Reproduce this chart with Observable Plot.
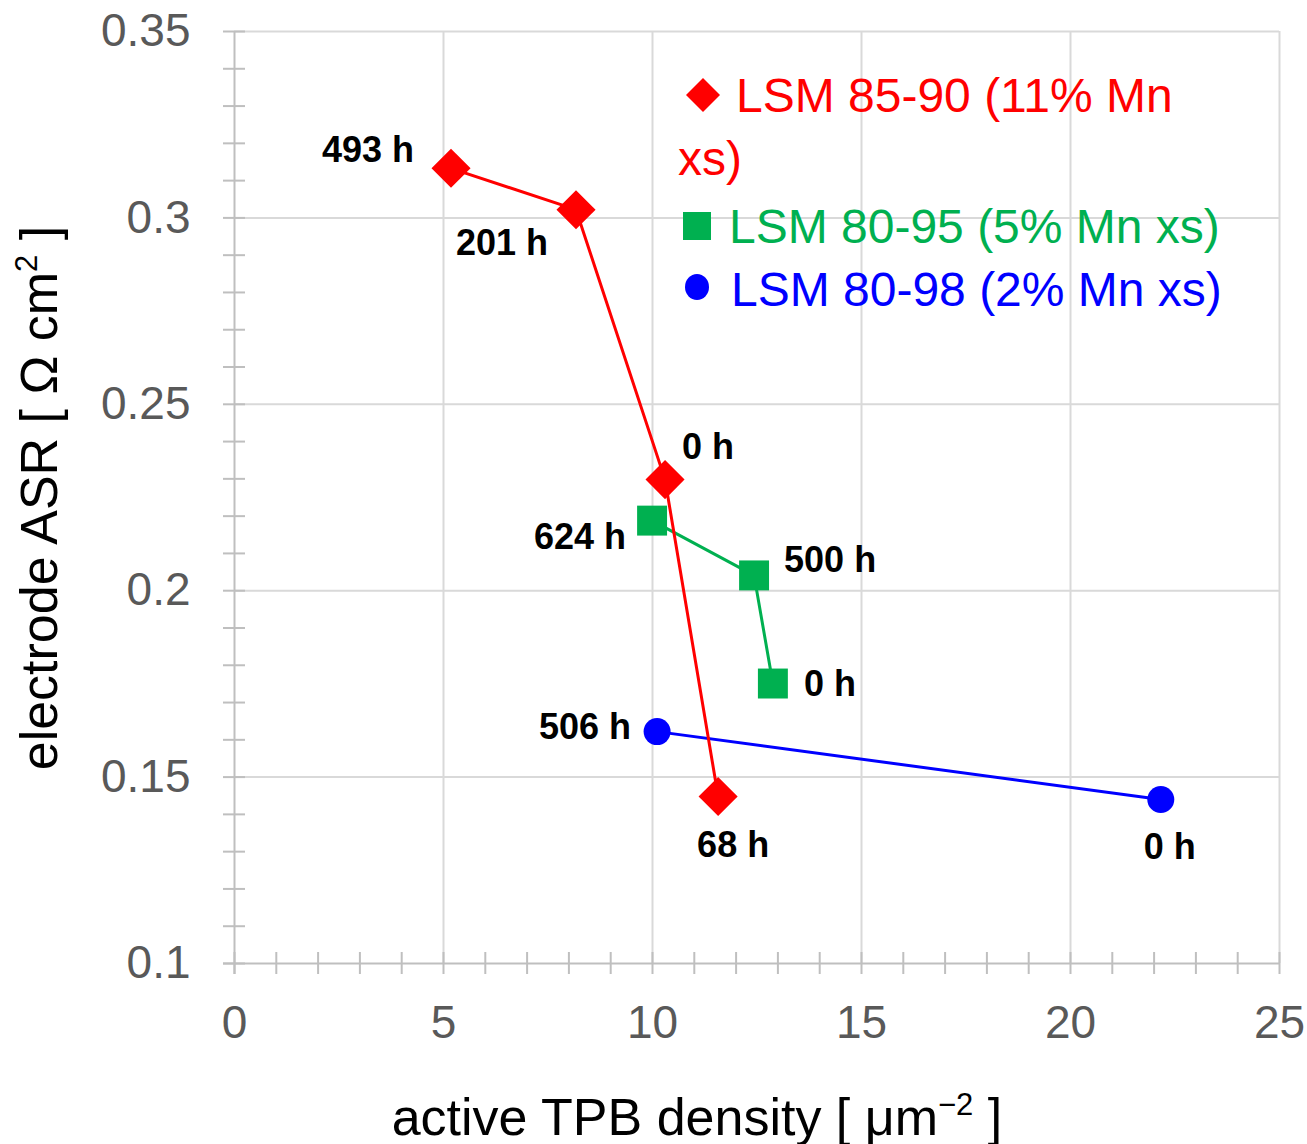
<!DOCTYPE html>
<html>
<head>
<meta charset="utf-8">
<script src="https://cdn.jsdelivr.net/npm/d3@7"></script>
<script src="https://cdn.jsdelivr.net/npm/@observablehq/plot@0.6"></script>
<style>
  body { margin: 0; background: #fff; }
  #chart { position: relative; width: 1307px; height: 1144px; }
</style>
</head>
<body>
<div id="chart"></div>
<script>
// ---- data ----
const xTicks = [0, 5, 10, 15, 20, 25];
const yTicks = [0.1, 0.15, 0.2, 0.25, 0.3, 0.35];
const xMinor = [0,1,2,3,4,5,6,7,8,9,10,11,12,13,14,15,16,17,18,19,20,21,22,23,24,25];
const yMinor = [0.1,0.11,0.12,0.13,0.14,0.15,0.16,0.17,0.18,0.19,0.2,0.21,0.22,0.23,0.24,0.25,0.26,0.27,0.28,0.29,0.3,0.31,0.32,0.33,0.34,0.35];

const seriesNames = ["LSM 85-90 (11% Mn xs)", "LSM 80-95 (5% Mn xs)", "LSM 80-98 (2% Mn xs)"];

const redX = [5.18, 8.17, 10.30, 11.57];
const redY = [0.3133, 0.3022, 0.2298, 0.1448];
const redHours = ["493 h", "201 h", "0 h", "68 h"];

const greenX = [9.99, 12.43, 12.88];
const greenY = [0.2188, 0.2041, 0.1751];
const greenHours = ["624 h", "500 h", "0 h"];

const blueX = [10.11, 22.16];
const blueY = [0.1622, 0.1440];
const blueHours = ["506 h", "0 h"];

const xTitle = "active TPB density [ μm";
const xTitleSup = "−2";
const yTitle = "electrode ASR [ Ω cm";
const yTitleSup = "2";

// ---- styles ----
const FONT = "'Liberation Sans', Arial, Helvetica, sans-serif";
const colors = { red: "#ff0000", green: "#00b050", blue: "#0000ff" };
const labelPlacement = {
  red:   [{a: "end", dx: -37, dy: -18}, {a: "middle", dx: -74, dy: 34}, {a: "start", dx: 17, dy: -32}, {a: "middle", dx: 15, dy: 49}],
  green: [{a: "end", dx: -26, dy: 17}, {a: "start", dx: 30, dy: -15}, {a: "start", dx: 31, dy: 1}],
  blue:  [{a: "end", dx: -26, dy: -4}, {a: "middle", dx: 9, dy: 48}]
};

const toRows = (xs, ys, hs) => xs.map((x, i) => ({x, y: ys[i], h: hs[i]}));
const red = toRows(redX, redY, redHours);
const green = toRows(greenX, greenY, greenHours);
const blue = toRows(blueX, blueY, blueHours);

const W = 1307, H = 1144;
const mL = 234, mR = 28, mT = 31, mB = 181;
const frameW = W - mL - mR, frameH = H - mT - mB;

const labelMarks = (rows, key) => rows.map((r, i) => Plot.text([r], {
  x: "x", y: "y", text: "h",
  textAnchor: labelPlacement[key][i].a,
  dx: labelPlacement[key][i].dx, dy: labelPlacement[key][i].dy,
  fontSize: 36, fontWeight: "bold", fill: "#000"
}));

const plot = Plot.plot({
  width: W, height: H,
  marginLeft: mL, marginRight: mR, marginTop: mT, marginBottom: mB,
  style: {fontFamily: FONT, background: "#fff", overflow: "visible"},
  x: {domain: [0, 25]},
  y: {domain: [0.1, 0.35]},
  marks: [
    Plot.ruleX(xTicks.filter(d => d > 0), {stroke: "#d9d9d9", strokeWidth: 2}),
    Plot.ruleY(yTicks.filter(d => d > 0.1), {stroke: "#d9d9d9", strokeWidth: 2}),
    Plot.ruleX(xMinor, {stroke: "#bfbfbf", strokeWidth: 2, insetTop: frameH - 11, insetBottom: -11}),
    Plot.ruleY(yMinor, {stroke: "#bfbfbf", strokeWidth: 2, insetLeft: -11, insetRight: frameW - 11}),
    Plot.ruleX([0], {stroke: "#bfbfbf", strokeWidth: 2, insetBottom: -11}),
    Plot.ruleY([0.1], {stroke: "#bfbfbf", strokeWidth: 2, insetLeft: -11}),
    Plot.axisX({ticks: xTicks, tickSize: 0, tickPadding: 42, fontSize: 46, color: "#595959", label: null}),
    Plot.axisY({ticks: yTicks, tickSize: 0, tickPadding: 44, fontSize: 46, color: "#595959", label: null, tickFormat: d => String(d)}),
    Plot.line(blue, {x: "x", y: "y", stroke: colors.blue, strokeWidth: 3}),
    Plot.dot(blue, {x: "x", y: "y", symbol: "circle", r: 13.5, fill: colors.blue, stroke: "none"}),
    Plot.line(green, {x: "x", y: "y", stroke: colors.green, strokeWidth: 3}),
    Plot.dot(green, {x: "x", y: "y", symbol: "square", r: 16.9, fill: colors.green, stroke: "none"}),
    Plot.line(red, {x: "x", y: "y", stroke: colors.red, strokeWidth: 3}),
    Plot.dot(red, {x: "x", y: "y", symbol: "diamond2", r: 17.6, fill: colors.red, stroke: "none"}),
    ...labelMarks(red, "red"),
    ...labelMarks(green, "green"),
    ...labelMarks(blue, "blue")
  ]
});

document.getElementById("chart").appendChild(plot);

// ---- axis titles and legend (annotations in the same SVG) ----
const svg = d3.select(plot);
const ann = svg.append("g").attr("font-family", FONT);

// x title
const xt = ann.append("text").attr("x", 697).attr("y", 1135).attr("text-anchor", "middle")
  .attr("font-size", 52).attr("fill", "#000");
xt.append("tspan").text(xTitle);
xt.append("tspan").attr("font-size", 31).attr("dy", -20).text(xTitleSup);
xt.append("tspan").attr("dy", 20).text(" ]");

// y title
const yt = ann.append("text").attr("transform", "translate(57,498) rotate(-90)").attr("text-anchor", "middle")
  .attr("font-size", 52).attr("fill", "#000");
yt.append("tspan").text(yTitle);
yt.append("tspan").attr("font-size", 31).attr("dy", -20).text(yTitleSup);
yt.append("tspan").attr("dy", 20).text(" ]");

// legend
const lg = ann.append("g").attr("font-size", 48).attr("text-anchor", "start");
// red
lg.append("path").attr("transform", "translate(703,95)")
  .attr("d", d3.symbol(d3.symbolDiamond2, Math.pow(17 / 0.62625, 2))()).attr("fill", colors.red);
const redWords = seriesNames[0].split(" ");
lg.append("text").attr("x", 736).attr("y", 112).attr("fill", colors.red).text(redWords.slice(0, -1).join(" "));
lg.append("text").attr("x", 678).attr("y", 175).attr("fill", colors.red).text(redWords.slice(-1)[0]);
// green
lg.append("rect").attr("x", 683).attr("y", 212).attr("width", 28).attr("height", 28).attr("fill", colors.green);
lg.append("text").attr("x", 729).attr("y", 243).attr("fill", colors.green).text(seriesNames[1]);
// blue
lg.append("ellipse").attr("cx", 697).attr("cy", 287).attr("rx", 12).attr("ry", 13).attr("fill", colors.blue);
lg.append("text").attr("x", 731).attr("y", 306).attr("fill", colors.blue).text(seriesNames[2]);
</script>
</body>
</html>
